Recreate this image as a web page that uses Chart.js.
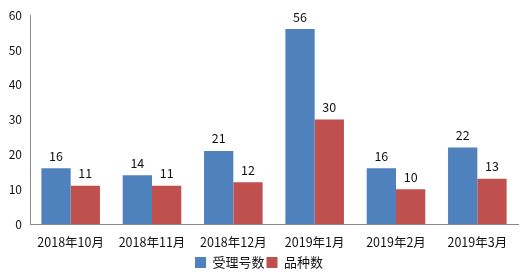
<!DOCTYPE html>
<html><head><meta charset="utf-8">
<script src="https://cdn.jsdelivr.net/npm/chart.js@4/dist/chart.umd.min.js"></script>
<style>html,body{margin:0;padding:0;background:#fff}#wrap{width:520px;height:279px}</style>
</head><body><div id="wrap"><canvas id="c" width="520" height="279"></canvas></div>
<script>
const categories = ["2018年10月","2018年11月","2018年12月","2019年1月","2019年2月","2019年3月"];
const seriesNames = ["受理号数","品种数"];
const acceptNums = [16,14,21,56,16,22];
const varietyNums = [11,11,12,30,10,13];
const yTicks = [0,10,20,30,40,50,60];
const FONT = "'Noto Sans CJK SC', 'Noto Sans', sans-serif";

const labelPlugin = {
  id: 'vals',
  afterDatasetsDraw(chart) {
    const ctx = chart.ctx;
    ctx.save();
    ctx.font = "12.5px " + FONT;
    ctx.fillStyle = "#111";
    ctx.textAlign = "center";
    ctx.textBaseline = "bottom";
    chart.data.datasets.forEach((ds, i) => {
      chart.getDatasetMeta(i).data.forEach((bar, j) => {
        ctx.fillText(String(ds.data[j]), bar.x, bar.y - 6);
      });
    });
    ctx.restore();
  }
};

new Chart(document.getElementById('c'), {
  type: 'bar',
  data: {
    labels: categories,
    datasets: [
      {label: seriesNames[0], data: acceptNums, backgroundColor: '#4F81BD', barPercentage: 1, categoryPercentage: 0.72},
      {label: seriesNames[1], data: varietyNums, backgroundColor: '#C0504D', barPercentage: 1, categoryPercentage: 0.72}
    ]
  },
  options: {
    responsive: false,
    animation: false,
    devicePixelRatio: 1,
    layout: {padding: {top: 12, right: 2, left: 0, bottom: 0}},
    plugins: {
      legend: {
        position: 'bottom',
        labels: {boxWidth: 11, boxHeight: 11, padding: 2, color: '#111', font: {family: FONT, size: 13}}
      },
      tooltip: {enabled: false}
    },
    scales: {
      x: {
        grid: {display: false, drawTicks: false},
        border: {color: '#888', width: 1},
        ticks: {color: '#111', font: {family: FONT, size: 12.5}, padding: 11, maxRotation: 0, autoSkip: false},
        afterFit(s) { s.height = 30; }
      },
      y: {
        min: 0, max: 60,
        grid: {display: false, drawTicks: false},
        border: {color: '#888', width: 1},
        afterBuildTicks(s) { s.ticks = yTicks.map(v => ({value: v})); },
        ticks: {color: '#111', font: {family: FONT, size: 12}, padding: 8},
        afterFit(s) { s.width = 30; }
      }
    }
  },
  plugins: [labelPlugin]
});
</script></body></html>
